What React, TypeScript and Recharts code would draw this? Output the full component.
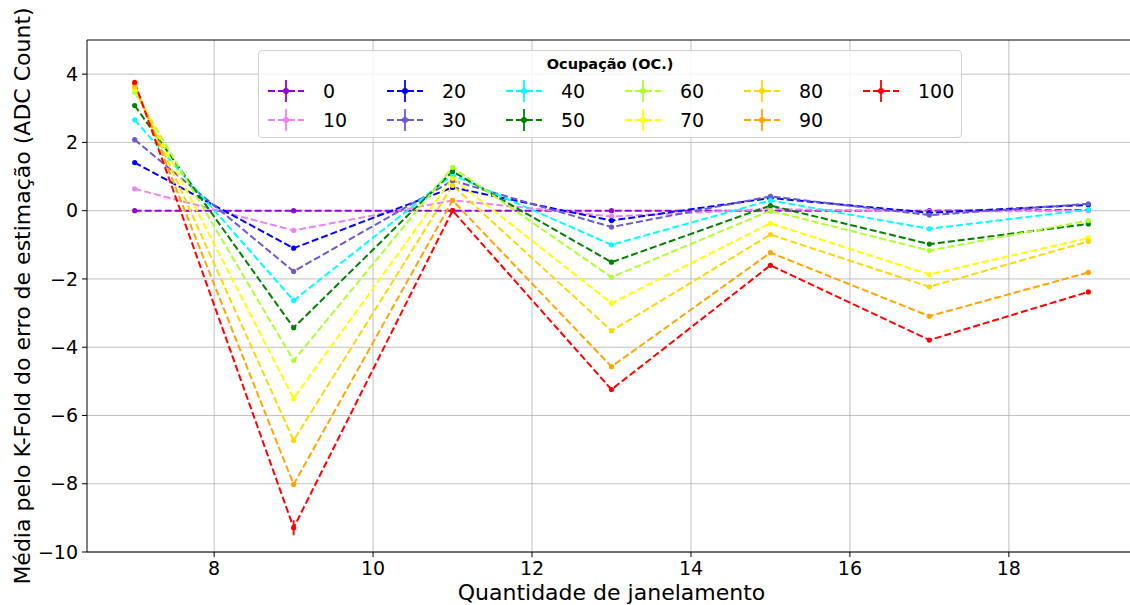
import React from 'react';
import { LineChart, Line, XAxis, YAxis, CartesianGrid, ReferenceLine, ErrorBar, Label } from 'recharts';

const windows = [7, 9, 11, 13, 15, 17, 19];
const occupancies = ['0', '10', '20', '30', '40', '50', '60', '70', '80', '90', '100'];
const colors = ['#9400D3', '#EE82EE', '#0000FF', '#6A5ACD', '#00FFFF', '#008000', '#ADFF2F', '#FFFF00', '#FFD700', '#FFA500', '#FF0000'];

const oc0 = [0, 0, 0, 0, 0, 0, 0.02];
const oc10 = [0.64, -0.58, 0.3, -0.17, 0.05, -0.03, 0.0];
const oc20 = [1.41, -1.1, 0.68, -0.29, 0.37, -0.06, 0.17];
const oc30 = [2.08, -1.78, 0.88, -0.48, 0.42, -0.13, 0.2];
const oc40 = [2.66, -2.63, 1.05, -1.0, 0.3, -0.53, 0.03];
const oc50 = [3.08, -3.43, 1.15, -1.51, 0.15, -0.98, -0.39];
const oc60 = [3.47, -4.39, 1.27, -1.95, 0.0, -1.17, -0.29];
const oc70 = [3.55, -5.5, 0.95, -2.71, -0.37, -1.87, -0.8];
const oc80 = [3.62, -6.73, 0.74, -3.52, -0.7, -2.23, -0.9];
const oc90 = [3.7, -8.02, 0.3, -4.57, -1.23, -3.09, -1.81];
const oc100 = [3.76, -9.29, 0.0, -5.24, -1.6, -3.79, -2.38];
const err100 = [0, 0.22, 0, 0, 0, 0, 0];

const seriesValues = [oc0, oc10, oc20, oc30, oc40, oc50, oc60, oc70, oc80, oc90, oc100];

const xTicks = [8, 10, 12, 14, 16, 18];
const yTicks = [-10, -8, -6, -4, -2, 0, 2, 4];

const data = windows.map((w, i) => {
  const row: Record<string, number> = { x: w, err100: err100[i] };
  seriesValues.forEach((s, k) => {
    row['s' + occupancies[k]] = s[i];
  });
  return row;
});

const FONT = '"DejaVu Sans", sans-serif';
const DASH = '7 3';
const LW = 2;

const Handle = ({ color }: { color: string }) => (
  <svg width={40} height={24} style={{ display: 'block' }}>
    <line x1={2} y1={12} x2={38} y2={12} stroke={color} strokeWidth={LW} strokeDasharray={DASH} />
    <line x1={20} y1={1} x2={20} y2={23} stroke={color} strokeWidth={1.8} />
    <circle cx={20} cy={12} r={3} fill={color} />
  </svg>
);

const LegendBox = () => (
  <div
    style={{
      position: 'absolute',
      left: 258,
      top: 50,
      width: 704,
      height: 88,
      border: '1px solid #d0d0d0',
      borderRadius: 4,
      background: 'rgba(255,255,255,0.8)',
      boxSizing: 'border-box',
      fontFamily: FONT,
    }}
  >
    <div
      style={{
        position: 'absolute',
        left: 0,
        width: '100%',
        top: 5,
        textAlign: 'center',
        fontWeight: 'bold',
        fontSize: 14.5,
        color: '#000',
      }}
    >
      Ocupação (OC.)
    </div>
    {occupancies.map((oc, i) => {
      const col = Math.floor(i / 2);
      const row = i % 2;
      const cy = row === 0 ? 40 : 69;
      return (
        <React.Fragment key={oc}>
          <div style={{ position: 'absolute', left: 7 + col * 119, top: cy - 12 }}>
            <Handle color={colors[i]} />
          </div>
          <div
            style={{
              position: 'absolute',
              left: 64 + col * 119,
              top: cy - 12,
              fontSize: 19,
              lineHeight: '24px',
              color: '#000',
            }}
          >
            {oc}
          </div>
        </React.Fragment>
      );
    })}
  </div>
);

export default function App() {
  return (
    <div
      style={{
        position: 'fixed',
        left: 0,
        top: 0,
        width: 1130,
        height: 605,
        overflow: 'hidden',
        background: '#fff',
      }}
    >
      <LineChart width={1140} height={605} data={data} margin={{ top: 40, right: 4, bottom: 0, left: 0 }}>
        <CartesianGrid stroke="#b0b0b0" strokeWidth={0.8} horizontalValues={yTicks} verticalValues={xTicks} />
        <XAxis
          dataKey="x"
          type="number"
          domain={[6.4, 19.6]}
          ticks={xTicks}
          allowDataOverflow
          height={53}
          tickSize={5}
          tickMargin={5}
          stroke="#000"
          tick={{ fill: '#000', fontSize: 19, fontFamily: FONT }}
          tickLine={{ stroke: '#000' }}
          axisLine={{ stroke: '#000', strokeWidth: 1 }}
        >
          <Label
            content={({ viewBox }: any) => (
              <text
                x={viewBox.x + viewBox.width / 2}
                y={viewBox.y + 48}
                textAnchor="middle"
                fontSize={22}
                fontFamily={FONT}
                fill="#000"
              >
                Quantidade de janelamento
              </text>
            )}
          />
        </XAxis>
        <YAxis
          type="number"
          domain={[-10, 5]}
          ticks={yTicks}
          allowDataOverflow
          width={87}
          tickSize={5}
          tickMargin={4}
          stroke="#000"
          tick={{ fill: '#000', fontSize: 19, fontFamily: FONT }}
          tickLine={{ stroke: '#000' }}
          axisLine={{ stroke: '#000', strokeWidth: 1 }}
          tickFormatter={(v: number) => (v < 0 ? '\u2212' + Math.abs(v) : String(v))}
        >
          <Label
            content={({ viewBox }: any) => {
              const cx = viewBox.x + 22;
              const cy = viewBox.y + viewBox.height / 2;
              return (
                <text
                  x={cx}
                  y={cy}
                  transform={`rotate(-90 ${cx} ${cy})`}
                  textAnchor="middle"
                  dominantBaseline="central"
                  fontSize={22}
                  fontFamily={FONT}
                  fill="#000"
                >
                  Média pelo K-Fold do erro de estimação (ADC Count)
                </text>
              );
            }}
          />
        </YAxis>
        <ReferenceLine y={5} stroke="#000" strokeWidth={1} ifOverflow="visible" />
        <ReferenceLine x={19.6} stroke="#000" strokeWidth={1} ifOverflow="visible" />
        {occupancies.map((oc, i) => (
          <Line
            key={oc}
            type="linear"
            dataKey={'s' + oc}
            stroke={colors[i]}
            strokeWidth={LW}
            strokeDasharray={DASH}
            dot={{ r: 2.6, fill: colors[i], stroke: colors[i], strokeWidth: 0 }}
            activeDot={false}
            isAnimationActive={false}
          >
            {oc === '100' ? (
              <ErrorBar dataKey="err100" direction="y" width={0} stroke={colors[i]} strokeWidth={1.8} />
            ) : null}
          </Line>
        ))}
      </LineChart>
      <LegendBox />
    </div>
  );
}
